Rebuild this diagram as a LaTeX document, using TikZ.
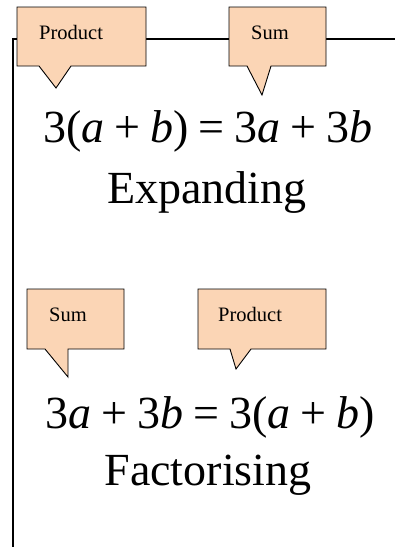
\documentclass[tikz,border=0pt]{standalone}
\usepackage{fontspec}
\setmainfont{Liberation Serif}
\definecolor{peach}{RGB}{251,213,181}
\tikzset{
  callout/.style={draw=black, fill=peach, line width=0.9pt, line join=miter},
  frameline/.style={draw=black, line width=1.4pt},
  tag/.style={anchor=base west, inner sep=0pt, font=\fontsize{20.5}{24}\selectfont},
  eqn/.style={anchor=base, inner sep=0pt, font=\fontsize{46}{52}\selectfont},
}
\newcommand{\gp}{\hspace{10pt}}
\begin{document}
\begin{tikzpicture}[x=1pt,y=-1pt]
\useasboundingbox (0,0) rectangle (395,547);
% frame lines
\coordinate (corner) at (13,39);
\coordinate (rightend) at (395,39);
\coordinate (bottomend) at (13,547);
\draw[frameline] (rightend) -- (corner) -- (bottomend);
% callouts
\draw[callout] (17,7) -- (146,7) -- (146,66) -- (71,66) -- (56,88) -- (39,66) -- (17,66) -- cycle;
\draw[callout] (229,7) -- (326,7) -- (326,66) -- (271,66) -- (262,95) -- (247,66) -- (229,66) -- cycle;
\draw[callout] (27,289) -- (124,289) -- (124,349) -- (68,349) -- (68,377) -- (45,349) -- (27,349) -- cycle;
\draw[callout] (198,289) -- (326,289) -- (326,349) -- (251,349) -- (236,369) -- (230,349) -- (198,349) -- cycle;
% labels
\node[tag] (p1) at (39,39) {Product};
\node[tag] (s1) at (251,39) {Sum};
\node[tag] (s2) at (49,321) {Sum};
\node[tag] (p2) at (218,321) {Product};
% equations
\node[eqn] (eq1) at (208,142) {3(\textit{a}\gp+\gp\textit{b})\gp=\gp3\textit{a}\gp+\gp3\textit{b}};
\node[eqn] (w1) at (207,203) {Expanding};
\node[eqn] (eq2) at (210,428) {3\textit{a}\gp+\gp3\textit{b}\gp=\gp3(\textit{a}\gp+\gp\textit{b})};
\node[eqn] (w2) at (208,485) {Factorising};
\end{tikzpicture}
\end{document}
